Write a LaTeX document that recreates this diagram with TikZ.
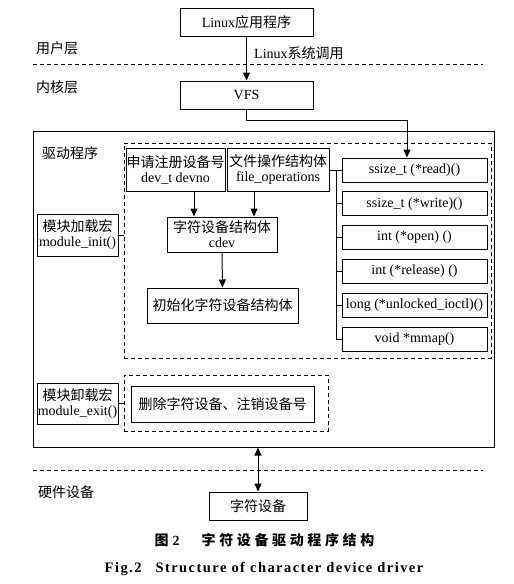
\documentclass[tikz,border=0pt]{standalone}
\usepackage{fontspec}
\setmainfont{Liberation Serif}
\newfontfamily\cjk{Noto Sans CJK SC}
\newfontfamily\cjkcap[LetterSpace=26]{Noto Sans CJK SC}
\newfontfamily\encap[LetterSpace=10]{Liberation Serif}
\newcommand{\zhs}[1]{{\cjk #1}}
\usetikzlibrary{arrows.meta}
\begin{document}
\begin{tikzpicture}[x=1pt,y=-1pt,
  box/.style={draw, line width=1pt, inner sep=0pt, align=center, font=\fontsize{14}{15}\selectfont},
  dbox/.style={draw, line width=0.9pt, dash pattern=on 4pt off 3pt, inner sep=0pt},
  sepline/.style={line width=0.9pt, dash pattern=on 4pt off 3pt},
  arr/.style={line width=1pt, -{Triangle[length=8pt,width=7pt]}},
  darr/.style={line width=1pt, {Triangle[length=8pt,width=7pt]}-{Triangle[length=8pt,width=7pt]}},
  conn/.style={line width=1pt},
  lbl/.style={anchor=west, inner sep=0pt, font=\fontsize{14}{15}\selectfont\cjk},
  fbox/.style={box, minimum width=145pt, minimum height=24pt}]
\useasboundingbox (0,0) rectangle (514,584);

% layer labels and separators
\node[lbl] (user) at (36,48) {用户层};
\node[lbl] (kernel) at (36,87) {内核层};
\node[lbl] (hw) at (38,492) {硬件设备};
\draw[sepline] (33,64) -- (483,64);
\draw[sepline] (33,470) -- (483,470);

% user / kernel
\node[box, minimum width=133pt, minimum height=28pt] (app) at (246.5,22) {Linux\zhs{应用程序}};
\node[box, minimum width=133pt, minimum height=28pt] (vfs) at (246.5,95) {VFS};
\draw[arr] (app) -- (vfs);
\node[anchor=west, inner sep=0pt, font=\fontsize{14}{15}\selectfont] (sys) at (254,53) {Linux\zhs{系统调用}};

% driver frame
\node[draw, line width=1pt, minimum width=461pt, minimum height=316pt, inner sep=0pt] (drv) at (263.5,289) {};
\node[lbl] (drvlbl) at (42,153) {驱动程序};
\node[dbox, minimum width=367pt, minimum height=215pt] (initgrp) at (307.5,250.5) {};

\node[box, minimum width=99pt, minimum height=43pt] (reg) at (175.5,169.5) {\zhs{申请注册设备号}\\dev\_t devno};
\node[box, minimum width=102pt, minimum height=43pt] (fops) at (278,169.5) {\zhs{文件操作结构体}\\file\_operations};
\node[box, minimum width=110pt, minimum height=35pt] (cdev) at (222,234.5) {\zhs{字符设备结构体}\\cdev};
\node[box, minimum width=151pt, minimum height=35pt] (init) at (222.5,305.5) {\zhs{初始化字符设备结构体}};
\draw[arr] ([xshift=18.5pt]reg.south) -- ([xshift=18.5pt]reg.south |- cdev.north);
\draw[arr] ([xshift=-24pt]fops.south) -- ([xshift=-24pt]fops.south |- cdev.north);
\draw[arr] (cdev.south) -- (init.north);

\node[box, minimum width=81pt, minimum height=42pt] (load) at (77.5,235) {\zhs{模块加载宏}\\module\_init()};
\draw[conn] (load.east) -- (load.east -| initgrp.west);

% file operation functions
\node[fbox] (f1) at (414.5,170) {ssize\_t (*read)()};
\node[fbox] (f2) at (414.5,203.8) {ssize\_t (*write)()};
\node[fbox] (f3) at (414.5,237.6) {int (*open) ()};
\node[fbox] (f4) at (414.5,271.4) {int (*release) ()};
\node[fbox] (f5) at (414.5,305.2) {long (*unlocked\_ioctl)()};
\node[fbox] (f6) at (414.5,339) {void *mmap()};
\coordinate (bt) at (336,170);
\draw[conn] (fops.east |- bt) -- (f1.west);
\draw[conn] (bt) |- (f6.west);
\foreach \f in {f2,f3,f4,f5} \draw[conn] (bt |- \f.west) -- (\f.west);

\draw[arr] (vfs.south) -- ++(0,11) -| ([xshift=-7.5pt]f1.north);

% exit group
\node[dbox, minimum width=204pt, minimum height=56pt] (exitgrp) at (226,403) {};
\node[box, minimum width=183pt, minimum height=36pt] (del) at (222.5,404) {\zhs{删除字符设备、注销设备号}};
\node[box, minimum width=81pt, minimum height=41pt] (unload) at (77.5,403.5) {\zhs{模块卸载宏}\\module\_exit()};
\draw[conn] (unload.east) -- (unload.east -| exitgrp.west);

% hardware
\node[box, minimum width=98pt, minimum height=28pt] (chardev) at (258,506) {\zhs{字符设备}};
\draw[darr] (drv.south -| chardev.north) -- (chardev.north);

% captions
\node[inner sep=0pt, font=\fontsize{14}{16}\selectfont\bfseries] (cap1) at (264.5,540) {{\cjk 图}\hspace{4pt}2\hspace{22pt}{\cjkcap 字符设备驱动程序结构}};
\node[inner sep=0pt, font=\fontsize{14.5}{16}\selectfont\bfseries\encap] (cap2) at (264,569) {Fig.2\hspace{14pt}Structure of character device driver};
\end{tikzpicture}
\end{document}
